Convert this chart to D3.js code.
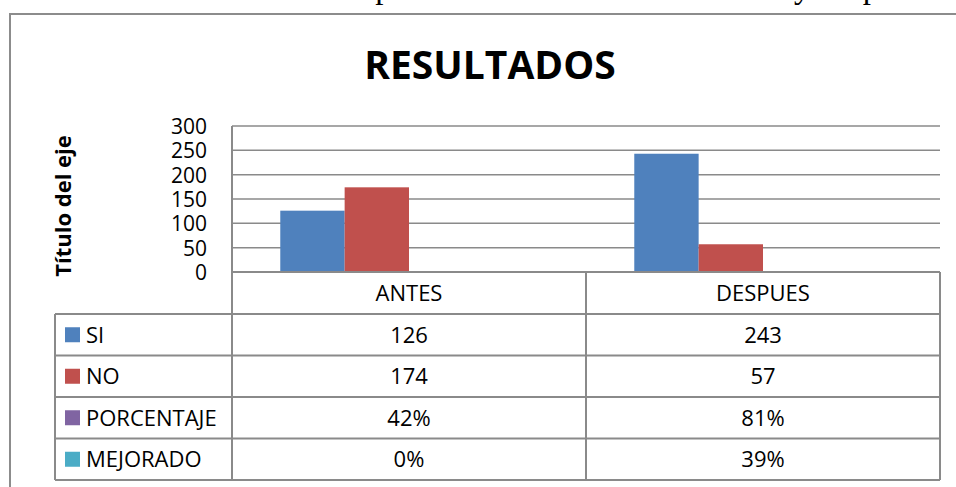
<!DOCTYPE html>
<html lang="es">
<head>
  <meta charset="UTF-8">
  <title>RESULTADOS</title>
  <script src="https://d3js.org/d3.v7.min.js"></script>
  <style>
    body { margin: 0; background: #fff; }
    svg { display: block; font-family: "Open Sans", "Noto Sans", sans-serif; }
  </style>
</head>
<body>
  <svg id="chart"></svg>
  <script>
    const width = 956, height = 487;

    // data
    const categories = ["ANTES", "DESPUES"];
    const seriesNames = ["SI", "NO", "PORCENTAJE", "MEJORADO"];
    const siValues = [126, 243];
    const noValues = [174, 57];
    const porcentajeValues = [0.42, 0.81];
    const mejoradoValues = [0, 0.39];
    const yTicks = [0, 50, 100, 150, 200, 250, 300];

    const colors = ["#4F81BD", "#C0504D", "#8064A2", "#4BACC6"];
    const valueRows = [siValues, noValues, porcentajeValues, mejoradoValues];
    const fmtRow = [d3.format("d"), d3.format("d"), d3.format(".0%"), d3.format(".0%")];

    const svg = d3.select("#chart").attr("width", width).attr("height", height);
    const lineColor = "#8a8a8a";

    // cut-off caption from the document above the chart
    const caption = svg.append("g")
      .style("font-family", "'Liberation Serif', serif")
      .style("font-size", "33px");
    caption.append("text")
      .attr("x", 303).attr("y", -2)
      .attr("text-anchor", "end")
      .text("GRÁFICO N° 01:");
    caption.append("text")
      .attr("x", 311).attr("y", -2)
      .text("Comparación de resultados de antes y después");

    // outer frame (runs off the right and bottom edges)
    svg.append("rect")
      .attr("x", 10).attr("y", 14)
      .attr("width", 960).attr("height", 490)
      .attr("fill", "none")
      .attr("stroke", "#8c8c8c")
      .attr("stroke-width", 2);

    svg.append("text")
      .attr("x", 490).attr("y", 79)
      .attr("text-anchor", "middle")
      .style("font-weight", "bold")
      .style("font-size", "39px")
      .text("RESULTADOS");

    const plot = { left: 232, right: 940, top: 126, bottom: 272 };

    const x0 = d3.scaleBand().domain(categories).range([plot.left, plot.right]);
    const gap = x0.bandwidth() * 0.75 / 5.5;
    const x1 = d3.scaleBand().domain(seriesNames).range([gap, x0.bandwidth() - gap]);
    const y = d3.scaleLinear().domain([0, 300]).range([plot.bottom, plot.top]);

    // gridlines
    svg.append("g")
      .selectAll("line")
      .data(yTicks)
      .join("line")
      .attr("x1", plot.left).attr("x2", plot.right)
      .attr("y1", d => y(d)).attr("y2", d => y(d))
      .attr("stroke", lineColor)
      .attr("stroke-width", 1.5);

    // y axis labels
    const yAxis = svg.append("g")
      .attr("transform", `translate(${plot.left - 25},0)`)
      .call(d3.axisLeft(y).tickValues(yTicks).tickSize(0).tickPadding(0));
    yAxis.select(".domain").remove();
    yAxis.selectAll("text")
      .style("font-family", "'Open Sans', sans-serif")
      .style("font-size", "21px")
      .attr("fill", "#000")
      .attr("dy", "0.36em");

    svg.append("text")
      .attr("transform", "translate(71,206) rotate(-90)")
      .attr("text-anchor", "middle")
      .style("font-weight", "bold")
      .style("font-size", "22px")
      .text("Título del eje");

    // bars
    const barData = [];
    categories.forEach((c, ci) => {
      seriesNames.forEach((s, si) => {
        barData.push({ cat: c, series: s, value: valueRows[si][ci], color: colors[si] });
      });
    });

    svg.append("g")
      .selectAll("rect")
      .data(barData)
      .join("rect")
      .attr("x", d => x0(d.cat) + x1(d.series))
      .attr("width", x1.bandwidth())
      .attr("y", d => y(d.value))
      .attr("height", d => y(0) - y(d.value))
      .attr("fill", d => d.color);

    // data table
    const tableLeft = 55;
    const headerBottom = 314;
    const rowH = 41.5;
    const tableBottom = headerBottom + rowH * seriesNames.length;

    const grid = svg.append("g").attr("stroke", lineColor).attr("stroke-width", 2);
    // axis line / header top
    grid.append("line")
      .attr("x1", plot.left).attr("x2", plot.right)
      .attr("y1", plot.bottom).attr("y2", plot.bottom);
    // row lines
    grid.selectAll(".row")
      .data(d3.range(seriesNames.length + 1))
      .join("line")
      .attr("x1", tableLeft).attr("x2", plot.right)
      .attr("y1", i => headerBottom + i * rowH)
      .attr("y2", i => headerBottom + i * rowH);
    // vertical lines
    grid.append("line")
      .attr("x1", plot.left).attr("x2", plot.left)
      .attr("y1", plot.top).attr("y2", tableBottom);
    grid.append("line")
      .attr("x1", tableLeft).attr("x2", tableLeft)
      .attr("y1", headerBottom).attr("y2", tableBottom);
    grid.selectAll(".col")
      .data(categories)
      .join("line")
      .attr("x1", d => x0(d) + x0.bandwidth()).attr("x2", d => x0(d) + x0.bandwidth())
      .attr("y1", plot.bottom).attr("y2", tableBottom);

    const cellFont = "22px";

    // header labels
    svg.append("g")
      .selectAll("text")
      .data(categories)
      .join("text")
      .attr("x", d => x0(d) + x0.bandwidth() / 2)
      .attr("y", (plot.bottom + headerBottom) / 2)
      .attr("dy", "0.36em")
      .attr("text-anchor", "middle")
      .style("font-size", cellFont)
      .text(d => d);

    // rows
    seriesNames.forEach((s, si) => {
      const cy = headerBottom + si * rowH + rowH / 2;
      svg.append("rect")
        .attr("x", 65).attr("y", cy - 7.5)
        .attr("width", 15).attr("height", 15)
        .attr("fill", colors[si]);
      svg.append("text")
        .attr("x", 86).attr("y", cy)
        .attr("dy", "0.36em")
        .style("font-size", cellFont)
        .text(s);
      svg.append("g")
        .selectAll("text")
        .data(categories)
        .join("text")
        .attr("x", d => x0(d) + x0.bandwidth() / 2)
        .attr("y", cy)
        .attr("dy", "0.36em")
        .attr("text-anchor", "middle")
        .style("font-size", cellFont)
        .text((d, ci) => fmtRow[si](valueRows[si][ci]));
    });
  </script>
</body>
</html>
